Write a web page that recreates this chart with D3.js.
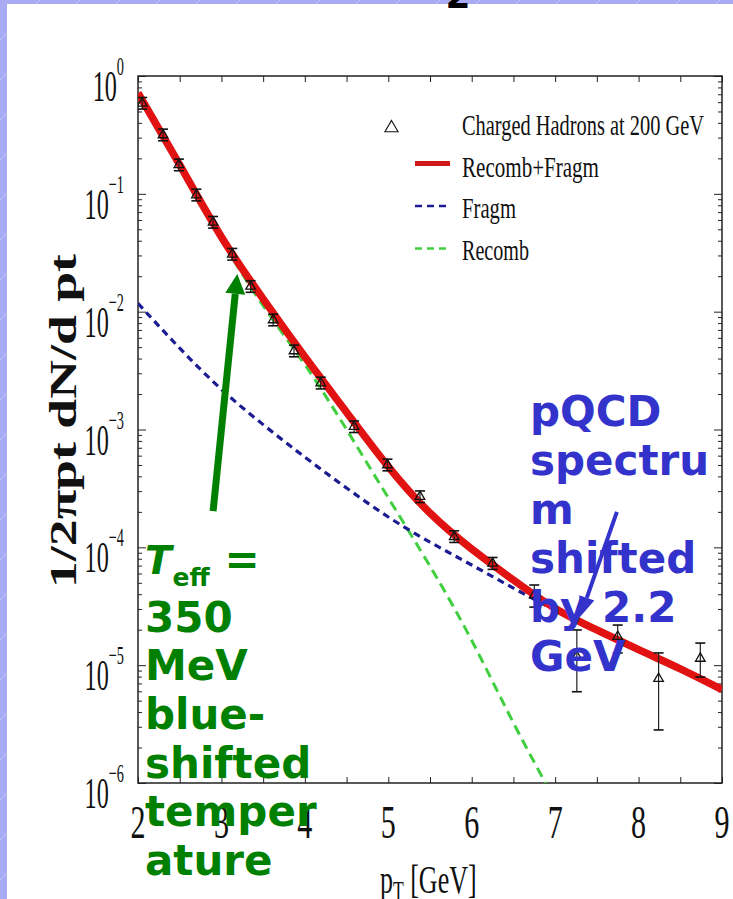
<!DOCTYPE html>
<html>
<head>
<meta charset="utf-8">
<script src="https://cdn.jsdelivr.net/npm/d3@7"></script>
<style>
  html, body { margin: 0; padding: 0; background: #fff; }
  svg { display: block; }
</style>
</head>
<body>
<svg id="chart" width="733" height="899"></svg>
<script>
// Charged hadrons at 200 GeV: measured points (pT in GeV, invariant yield)
const ptData    = [2.05, 2.3, 2.49, 2.7, 2.9, 3.13, 3.35, 3.62, 3.87, 4.19, 4.59, 4.99, 5.38, 5.79, 6.25, 6.75, 7.26, 7.75, 8.24, 8.74];
const yieldData = [0.587, 0.316, 0.176, 0.0977, 0.0573, 0.0307, 0.0164, 0.0085, 0.00464, 0.00248, 0.00106, 0.0005, 0.000269, 0.000123, 7.3e-5, 3.94e-5, 1.18e-5, 1.75e-5, 7.7e-6, 1.14e-5];
const yieldLow  = [0.524, 0.282, 0.157, 0.0872, 0.0512, 0.0274, 0.0146, 0.00759, 0.00414, 0.00221, 0.000943, 0.000446, 0.00024, 0.00011, 6.5e-5, 3.11e-5, 5.95e-6, 1.27e-5, 2.82e-6, 7.93e-6];
const yieldHigh = [0.657, 0.354, 0.197, 0.1094, 0.0642, 0.0344, 0.0183, 0.00952, 0.0052, 0.00278, 0.00118, 0.00056, 0.000301, 0.000138, 8.2e-5, 4.79e-5, 1.99e-5, 2.19e-5, 1.27e-5, 1.54e-5];

// Model curves on a pT grid
const ptGrid      = [2, 2.5, 3, 3.5, 4, 4.5, 5, 5.5, 6, 6.5, 7, 7.5, 8, 8.5, 9];
const recombFragm = [0.718, 0.1758, 0.04305, 0.01282, 0.00414, 0.001403, 0.000485, 0.0001954, 9.68e-5, 5.28e-5, 3.03e-5, 1.99e-5, 1.355e-5, 9.31e-6, 6.21e-6];
const fragm       = [0.01175, 0.0049, 0.00219, 0.0011, 0.000582, 0.000319, 0.000181, 0.0001107, 7.08e-5, 4.51e-5, 2.92e-5, 1.94e-5, 1.337e-5, 9.23e-6, 6.17e-6];
const ptRecomb    = [2, 2.5, 3, 3.5, 4, 4.5, 5, 5.5, 6, 6.5, 7];
const recomb      = [0.705, 0.1698, 0.0407, 0.01122, 0.00355, 0.001, 0.000263, 6.92e-5, 1.62e-5, 3.24e-6, 7.1e-7];

// Axis ticks
const xTickLabels = [2, 3, 4, 5, 6, 7, 8, 9];
const xTicks = [2, 2.5, 3, 3.5, 4, 4.5, 5, 5.5, 6, 6.5, 7, 7.5, 8, 8.5, 9];
const yExponents = [0, -1, -2, -3, -4, -5, -6];

// Legend entries
const legendLabels = ["Charged Hadrons at 200 GeV", "Recomb+Fragm", "Fragm", "Recomb"];

// Annotation arrows (pT, yield)
const tempArrow = { from: [2.90, 2.03e-4], to: [3.19, 0.0209] };
const pqcdArrow = { from: [7.74, 2.0e-4], to: [7.30, 2.58e-5] };

const svg = d3.select("#chart");
const W = 733, H = 899;
const plotL = 138, plotR = 722, plotT = 76, plotB = 783;

const x = d3.scaleLinear().domain([2, 9]).range([plotL, plotR]);
const y = d3.scaleLog().domain([1e-6, 1]).range([plotB, plotT]);

const SERIF = "'Liberation Serif', 'DejaVu Serif', serif";
const SANS = "'DejaVu Sans', Verdana, sans-serif";

// Slide background: lavender striped border
const defs = svg.append("defs");
const pat = defs.append("pattern").attr("id", "stripes")
  .attr("patternUnits", "userSpaceOnUse").attr("width", 40).attr("height", 40);
pat.append("rect").attr("width", 40).attr("height", 40).attr("fill", "#a8aaf4");
pat.append("line").attr("x1", 0).attr("y1", 40).attr("x2", 40).attr("y2", 0)
  .attr("stroke", "#c4c6fa").attr("stroke-width", 1);
svg.append("rect").attr("width", W).attr("height", H).attr("fill", "url(#stripes)");
svg.append("rect").attr("x", 7).attr("y", 4).attr("width", W - 7).attr("height", H - 4).attr("fill", "#fff");

// Slide title fragment at the top edge
svg.append("text").attr("x", 458).attr("y", 8).attr("text-anchor", "middle")
  .attr("font-family", SANS).attr("font-weight", "bold").attr("font-size", 36)
  .attr("fill", "#000").text("2");

defs.append("clipPath").attr("id", "plotClip")
  .append("rect").attr("x", plotL).attr("y", plotT).attr("width", plotR - plotL).attr("height", plotB - plotT);

// Ticks (pointing inward)
const decades = yExponents.map(e => Math.pow(10, e));
const minors = [];
yExponents.slice(1).forEach(e => { for (let k = 2; k <= 9; k++) minors.push(k * Math.pow(10, e)); });

function styleAxis(g) {
  g.select(".domain").remove();
  g.selectAll(".tick line").attr("stroke", "#222").attr("stroke-width", 1);
}
svg.append("g").attr("transform", `translate(${plotL},0)`)
  .call(d3.axisLeft(y).tickValues(decades).tickSize(-8).tickSizeOuter(0).tickFormat("")).call(styleAxis);
svg.append("g").attr("transform", `translate(${plotL},0)`)
  .call(d3.axisLeft(y).tickValues(minors).tickSize(-4).tickSizeOuter(0).tickFormat("")).call(styleAxis);
svg.append("g").attr("transform", `translate(${plotR},0)`)
  .call(d3.axisRight(y).tickValues(decades).tickSize(-8).tickSizeOuter(0).tickFormat("")).call(styleAxis);
svg.append("g").attr("transform", `translate(${plotR},0)`)
  .call(d3.axisRight(y).tickValues(minors).tickSize(-4).tickSizeOuter(0).tickFormat("")).call(styleAxis);
svg.append("g").attr("transform", `translate(0,${plotB})`)
  .call(d3.axisBottom(x).tickValues(xTicks).tickSize(-6).tickSizeOuter(0).tickFormat("")).call(styleAxis);
svg.append("g").attr("transform", `translate(0,${plotT})`)
  .call(d3.axisTop(x).tickValues(xTicks).tickSize(-6).tickSizeOuter(0).tickFormat("")).call(styleAxis);

// Frame
svg.append("rect").attr("x", plotL).attr("y", plotT).attr("width", plotR - plotL).attr("height", plotB - plotT)
  .attr("fill", "none").attr("stroke", "#222").attr("stroke-width", 1.5);

// Y tick labels: 10^n
yExponents.forEach(e => {
  const g = svg.append("g").attr("transform", `translate(124,${y(Math.pow(10, e))}) scale(0.55,1)`);
  const t = g.append("text").attr("text-anchor", "end").attr("font-family", SERIF).attr("fill", "#111");
  t.append("tspan").attr("y", 25).attr("font-size", 44).text("10");
  t.append("tspan").attr("dy", -26).attr("font-size", 26).text(e === 0 ? "0" : "\u2212" + Math.abs(e));
});

// X tick labels
xTickLabels.forEach(v => {
  svg.append("g").attr("transform", `translate(${x(v)},838) scale(0.64,1)`)
    .append("text").attr("text-anchor", "middle").attr("font-family", SERIF)
    .attr("font-size", 47).attr("fill", "#111").text(v);
});

// Axis titles
const xt = svg.append("g").attr("transform", "translate(380,893) scale(0.65,1)")
  .append("text").attr("font-family", SERIF).attr("font-size", 40).attr("fill", "#111");
xt.append("tspan").text("p");
xt.append("tspan").attr("font-size", 27).attr("dy", 7).text("T");
xt.append("tspan").attr("dy", -7).text(" [GeV]");

svg.append("text").attr("transform", "translate(76,421) rotate(-90)")
  .attr("text-anchor", "middle").attr("font-family", SERIF).attr("font-weight", "bold")
  .attr("font-size", 37).attr("fill", "#111")
  .attr("textLength", 334).attr("lengthAdjust", "spacingAndGlyphs")
  .text("1/2\u03C0pt dN/d pt");

// Curves
const plot = svg.append("g").attr("clip-path", "url(#plotClip)");
const line = d3.line().x(d => x(d[0])).y(d => y(d[1])).curve(d3.curveNatural);

plot.append("path").datum(d3.zip(ptRecomb, recomb)).attr("d", line)
  .attr("fill", "none").attr("stroke", "#3fcf3f").attr("stroke-width", 3)
  .attr("stroke-dasharray", "10,6");
plot.append("path").datum(d3.zip(ptGrid, fragm)).attr("d", line)
  .attr("fill", "none").attr("stroke", "#1c1c92").attr("stroke-width", 3.2)
  .attr("stroke-dasharray", "7,5");
plot.append("path").datum(d3.zip(ptGrid, recombFragm)).attr("d", line)
  .attr("fill", "none").attr("stroke", "#e01212").attr("stroke-width", 7.5);

// Data points with error bars
const pts = ptData.map((p, i) => ({ p, v: yieldData[i], lo: yieldLow[i], hi: yieldHigh[i] }));
const pg = plot.append("g").selectAll("g").data(pts).join("g");
pg.append("line").attr("x1", d => x(d.p)).attr("x2", d => x(d.p))
  .attr("y1", d => y(d.lo)).attr("y2", d => y(d.hi)).attr("stroke", "#222").attr("stroke-width", 1.2);
pg.append("line").attr("x1", d => x(d.p) - 5).attr("x2", d => x(d.p) + 5)
  .attr("y1", d => y(d.lo)).attr("y2", d => y(d.lo)).attr("stroke", "#111").attr("stroke-width", 1.6);
pg.append("line").attr("x1", d => x(d.p) - 5).attr("x2", d => x(d.p) + 5)
  .attr("y1", d => y(d.hi)).attr("y2", d => y(d.hi)).attr("stroke", "#111").attr("stroke-width", 1.6);
const tri = d3.symbol().type(d3.symbolTriangle).size(40);
pg.append("path").attr("d", tri).attr("transform", d => `translate(${x(d.p)},${y(d.v)})`)
  .attr("fill", "none").attr("stroke", "#111").attr("stroke-width", 1.3);

// Legend
const legX = 462;
const legBase = [135, 176.7, 218.3, 260];
const legLen = [242, 137, 54, 67];
legendLabels.forEach((lab, i) => {
  svg.append("text").attr("x", legX).attr("y", legBase[i]).attr("font-family", SERIF)
    .attr("font-size", 30).attr("fill", "#111")
    .attr("textLength", legLen[i]).attr("lengthAdjust", "spacingAndGlyphs").text(lab);
});
svg.append("path").attr("d", d3.symbol().type(d3.symbolTriangle).size(75)).attr("transform", "translate(391.5,128)")
  .attr("fill", "none").attr("stroke", "#111").attr("stroke-width", 1.1);
svg.append("line").attr("x1", 415).attr("x2", 450).attr("y1", 163.5).attr("y2", 163.5)
  .attr("stroke", "#d01818").attr("stroke-width", 5);
svg.append("line").attr("x1", 415).attr("x2", 447).attr("y1", 206).attr("y2", 206)
  .attr("stroke", "#1c1c92").attr("stroke-width", 2.5).attr("stroke-dasharray", "7,5");
svg.append("line").attr("x1", 415).attr("x2", 447).attr("y1", 248.5).attr("y2", 248.5)
  .attr("stroke", "#3fcf3f").attr("stroke-width", 2.5).attr("stroke-dasharray", "7,5");

// Annotation arrows
function arrow(a, color, width, headLen, headHalf) {
  const x0 = x(a.from[0]), y0 = y(a.from[1]);
  const x1 = x(a.to[0]), y1 = y(a.to[1]);
  const dx = x1 - x0, dy = y1 - y0, L = Math.hypot(dx, dy);
  const ux = dx / L, uy = dy / L;
  const bx = x1 - ux * headLen, by = y1 - uy * headLen;
  svg.append("line").attr("x1", x0).attr("y1", y0).attr("x2", bx).attr("y2", by)
    .attr("stroke", color).attr("stroke-width", width);
  svg.append("path")
    .attr("d", `M${x1},${y1}L${bx - uy * headHalf},${by + ux * headHalf}L${bx + uy * headHalf},${by - ux * headHalf}Z`)
    .attr("fill", color);
}
arrow(tempArrow, "#008000", 7, 20, 10);
arrow(pqcdArrow, "#3333cc", 4, 20, 8);

// Annotation texts
const green = svg.append("g").attr("font-family", SANS).attr("font-weight", "bold").attr("fill", "#008000");
const t1 = green.append("text").attr("x", 145).attr("y", 574);
t1.append("tspan").attr("font-size", 39).attr("font-style", "italic").text("T");
t1.append("tspan").attr("font-size", 25).attr("dy", 12).attr("dx", 1).text("eff");
t1.append("tspan").attr("font-size", 42).attr("dy", -12).text(" =");
["350", "MeV", "blue-", "shifted", "temper", "ature"].forEach((s, i) => {
  green.append("text").attr("x", 145).attr("y", 631.5 + i * 48.7).attr("font-size", 42).text(s);
});

const blue = svg.append("g").attr("font-family", SANS).attr("font-weight", "bold").attr("fill", "#3333cc");
["pQCD", "spectru", "m", "shifted", "by 2.2", "GeV"].forEach((s, i) => {
  blue.append("text").attr("x", 530).attr("y", 426 + i * 49).attr("font-size", 42).text(s);
});
</script>
</body>
</html>
